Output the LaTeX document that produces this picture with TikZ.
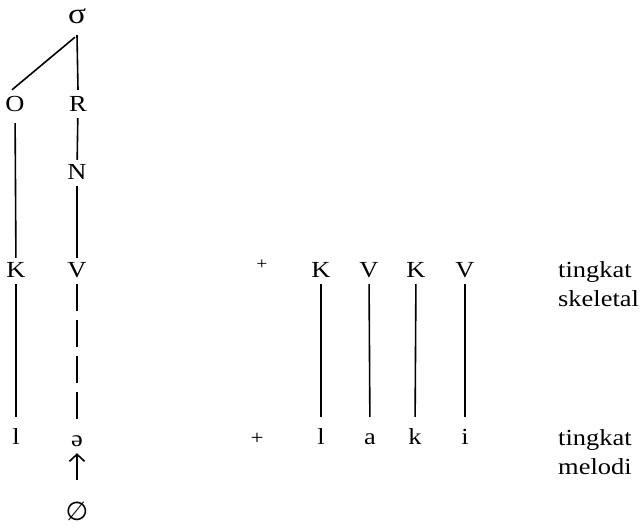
\documentclass[tikz,border=0pt]{standalone}
\usepackage{fontspec}
\setmainfont{Liberation Serif}[FakeStretch=1.15]
\newfontfamily\symfont{DejaVu Sans}
\usetikzlibrary{arrows.meta}
\begin{document}
\begin{tikzpicture}[x=1pt,y=-1pt,
  lab/.style={anchor=base, inner sep=0pt, text height=15pt, text depth=0pt,
    font=\fontsize{23}{29}\selectfont},
  txt/.style={anchor=base west, inner sep=0pt, font=\fontsize{23}{29}\selectfont},
  plus/.style={anchor=center, inner sep=0pt, font=\fontsize{20}{24}\selectfont},
  ln/.style={line width=1.6pt, shorten <=6pt, shorten >=5pt},
  lnlow/.style={ln, shorten >=13pt},
  dashln/.style={lnlow, dash pattern=on 27pt off 9pt}
]
\useasboundingbox (0,0) rectangle (641,529);

% left tree
\node[lab, text height=14pt, font=\fontsize{29}{29}\selectfont] (sigma) at (77,24) {σ};
\node[lab] (O) at (15,112) {O};
\node[lab] (R) at (78,112) {R};
\node[lab] (N) at (77,180) {N};
\node[lab] (K) at (16,278) {K};
\node[lab] (V) at (77,278) {V};
\node[lab] (l) at (16,445) {l};
\node[lab] (schwa) at (77,447) {ə};
\node[lab, text height=20pt, font=\symfont\fontsize{26}{26}\selectfont] (zero) at (77,521) {∅};

\draw[line width=1.6pt] ([shift={(-2,13)}]sigma.south) -- ([shift={(-3,-7)}]O.north);
\draw[line width=1.6pt] ([shift={(0,11)}]sigma.south) -- ([shift={(0,-7)}]R.north);
\draw[ln] (R) -- (N);
\draw[ln, shorten <=11pt] (O) -- (K);
\draw[ln] (N) -- (V);
\draw[lnlow] (K) -- (l);
\draw[dashln] (V) -- (schwa);
\draw[line width=1.6pt, shorten <=21pt, shorten >=6pt,
  -{Straight Barb[length=7pt,width=15pt,line width=1.6pt]}] (zero.north) -- (schwa.south);

% plus signs
\node[plus, font=\fontsize{17}{20}\selectfont] (p1) at (262,265) {+};
\node[plus] (p2) at (257,439) {+};

% right side
\node[lab] (K1) at (321,278) {K};
\node[lab] (V1) at (369,278) {V};
\node[lab] (K2) at (416,278) {K};
\node[lab] (V2) at (465,278) {V};
\node[lab] (m1) at (321,445) {l};
\node[lab] (m2) at (370,445) {a};
\node[lab] (m3) at (415,445) {k};
\node[lab] (m4) at (465,445) {i};
\draw[lnlow] (K1) -- (m1);
\draw[lnlow] (V1) -- (m2);
\draw[lnlow] (K2) -- (m3);
\draw[lnlow] (V2) -- (m4);

% labels
\node[txt] (t1) at (558,278) {tingkat};
\node[txt] (t2) at (558,307) {skeletal};
\node[txt] (t3) at (558,446) {tingkat};
\node[txt] (t4) at (558,475) {melodi};
\end{tikzpicture}
\end{document}
